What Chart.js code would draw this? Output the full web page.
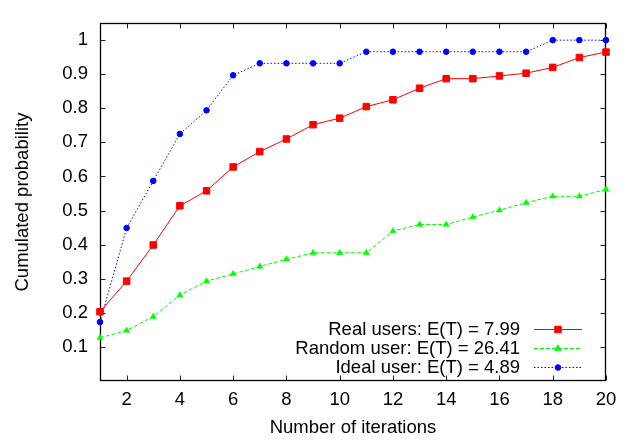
<!DOCTYPE html>
<html><head><meta charset="utf-8">
<script src="https://cdn.jsdelivr.net/npm/chart.js@4/dist/chart.umd.min.js"></script>
<style>html,body{margin:0;padding:0;background:#fff}</style>
</head><body>
<canvas id="c" width="633" height="441" style="width:633px;height:441px;display:block"></canvas>
<script>
const iterations = [1,2,3,4,5,6,7,8,9,10,11,12,13,14,15,16,17,18,19,20];
const realUsers  = [0.203,0.293,0.399,0.514,0.558,0.628,0.673,0.710,0.752,0.771,0.805,0.825,0.859,0.887,0.887,0.895,0.903,0.920,0.949,0.965];
const randomUser = [0.127,0.148,0.189,0.252,0.293,0.314,0.336,0.357,0.376,0.376,0.376,0.440,0.459,0.459,0.481,0.501,0.523,0.542,0.542,0.562];
const idealUser  = [0.173,0.449,0.587,0.725,0.794,0.897,0.932,0.932,0.932,0.932,0.966,0.966,0.966,0.966,0.966,0.966,0.966,1.000,1.000,1.000];
const xTicks = [2,4,6,8,10,12,14,16,18,20];
const yTicks = [0.1,0.2,0.3,0.4,0.5,0.6,0.7,0.8,0.9,1.0];
const seriesLabels = ['Real users: E(T) = 7.99','Random user: E(T) = 26.41','Ideal user: E(T) = 4.89'];
const xTitle = 'Number of iterations';
const yTitle = 'Cumulated probability';

const FONT = {family:'"Liberation Sans", Arial, Helvetica, sans-serif', size:18.5, lineHeight:1.2};
const pts = arr => iterations.map((x,i)=>({x:x, y:arr[i]}));

const framePlugin = {
  id:'frame',
  beforeDatasetsDraw(chart){
    const {ctx, chartArea:a, scales:{x, y}} = chart;
    ctx.save();
    ctx.strokeStyle = '#000';
    ctx.lineWidth = 1;
    ctx.beginPath();
    const L = Math.round(a.left)+0.5, R = Math.round(a.right)-0.5, T = Math.round(a.top)+0.5, B = Math.round(a.bottom)-0.5;
    ctx.strokeStyle = '#222';
    const tl = 5;
    x.ticks.forEach(t=>{
      const px = Math.round(x.getPixelForValue(t.value))+0.5;
      ctx.moveTo(px,B); ctx.lineTo(px,B-tl);
      ctx.moveTo(px,T); ctx.lineTo(px,T+tl);
    });
    y.ticks.forEach(t=>{
      const py = Math.round(y.getPixelForValue(t.value))+0.5;
      ctx.moveTo(L,py); ctx.lineTo(L+tl,py);
      ctx.moveTo(R,py); ctx.lineTo(R-tl,py);
    });
    ctx.stroke();
    ctx.strokeStyle = '#000';
    ctx.lineWidth = 1.3;
    ctx.strokeRect(L, T, R-L, B-T);
    ctx.restore();
  },
  afterDraw(chart){
    const {ctx, chartArea:a} = chart;
    ctx.save();
    ctx.font = FONT.size + 'px ' + FONT.family;
    ctx.textAlign = 'right';
    ctx.textBaseline = 'middle';
    const textRight = a.right - 86;
    const lineL = a.right - 72, lineR = a.right - 24, mid = (lineL+lineR)/2;
    chart.data.datasets.forEach((ds,i)=>{
      const yy = a.bottom - 51.5 + i*19;
      ctx.fillStyle = '#000';
      ctx.fillText(ds.label, textRight, yy);
      ctx.strokeStyle = ds.borderColor;
      ctx.lineWidth = ds.borderWidth;
      ctx.setLineDash(ds.borderDash || []);
      ctx.beginPath(); ctx.moveTo(lineL, yy); ctx.lineTo(lineR, yy); ctx.stroke();
      ctx.setLineDash([]);
      ctx.fillStyle = ds.pointBackgroundColor;
      ctx.strokeStyle = ds.pointBorderColor;
      Chart.helpers.drawPoint(ctx, {pointStyle:ds.pointStyle, radius:ds.pointRadius, rotation:0, borderWidth:ds.pointBorderWidth}, mid, yy);
    });
    ctx.restore();
  }
};

new Chart(document.getElementById('c'), {
  type:'line',
  data:{datasets:[
    {label:seriesLabels[0], data:pts(realUsers), borderColor:'#ff0000', borderWidth:1, pointStyle:'rect', pointRadius:4.6, pointBorderWidth:1, pointBackgroundColor:'#ff0000', pointBorderColor:'#ff0000', clip:false, tension:0},
    {label:seriesLabels[1], data:pts(randomUser), borderColor:'#00ff00', borderWidth:1, borderDash:[4,2], pointStyle:'triangle', pointRadius:3.6, pointBorderWidth:0.5, pointBackgroundColor:'#00ff00', pointBorderColor:'#00ff00', clip:false, tension:0},
    {label:seriesLabels[2], data:pts(idealUser), borderColor:'#0000ff', borderWidth:1, borderDash:[1.5,2], pointStyle:'circle', pointRadius:2.8, pointBorderWidth:1, pointBackgroundColor:'#0000ff', pointBorderColor:'#0000ff', clip:false, tension:0}
  ]},
  options:{
    responsive:false, animation:false, devicePixelRatio:1,
    layout:{padding:{top:7,right:27,left:0,bottom:0}},
    plugins:{legend:{display:false}, tooltip:{enabled:false}},
    scales:{
      x:{type:'linear', min:1, max:20,
        afterBuildTicks:s=>{s.ticks = xTicks.map(v=>({value:v}));},
        afterFit:s=>{s.height = 60;},
        grid:{display:false, drawTicks:false}, border:{display:false},
        ticks:{padding:8, font:FONT, color:'#000', maxRotation:0, autoSkip:false, callback:v=>String(v)},
        title:{display:true, text:xTitle, font:FONT, color:'#000', padding:{top:0,bottom:2}}
      },
      y:{type:'linear', min:0, max:1.05,
        afterBuildTicks:s=>{s.ticks = yTicks.map(v=>({value:v}));},
        afterFit:s=>{s.width = 100;},
        grid:{display:false, drawTicks:false}, border:{display:false},
        ticks:{padding:12, font:FONT, color:'#000', autoSkip:false, callback:v=>String(Math.round(v*10)/10)},
        title:{display:true, text:yTitle, font:FONT, color:'#000', padding:{top:12,bottom:0}}
      }
    }
  },
  plugins:[framePlugin]
});
</script>
</body></html>
